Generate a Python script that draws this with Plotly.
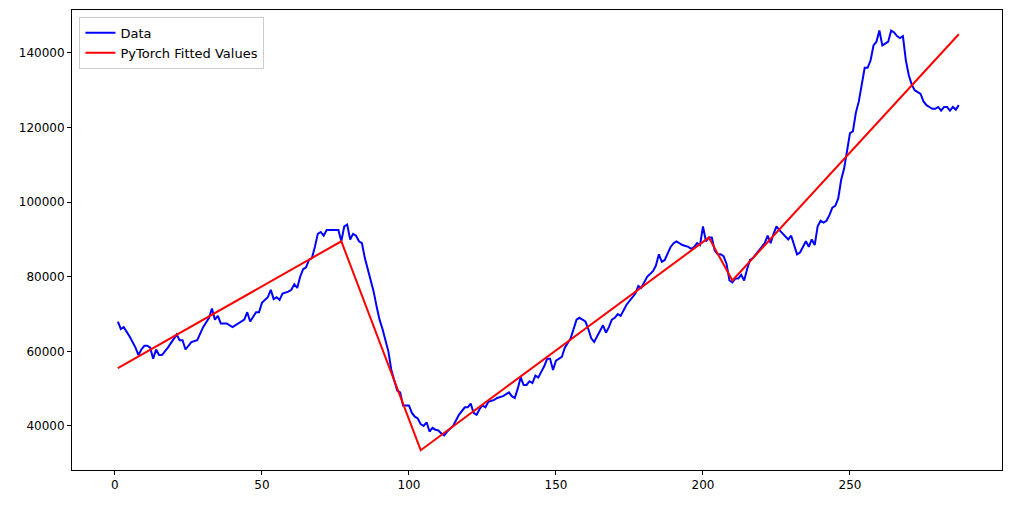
import plotly.graph_objects as go

# blue series
data_x = [1,2,3,5,7,8,9,10,11,12,13,14,15,16,18,20,21,22,23,24,25,26,28,30,32,33,34,35,36,38,40,42,44,45,46,48,49,50,52,53,54,55,56,57,59,60,61,62,63,64,65,66,67,68,69,70,71,72,74,76,77,78,79,80,81,82,83,84,85,86,87,88,89,90,91,92,93,94,95,96,97,98,99,100,101,102,103,104,105,106,107,108,109,110,111,112,113,115,117,119,120,121,122,123,124,125,126,127,129,130,132,133,134,135,136,137,138,139,140,141,142,143,144,145,146,147,148,149,150,152,153,155,156,157,158,159,160,161,162,163,165,166,167,168,169,170,171,172,174,176,177,178,179,181,183,184,185,186,187,189,190,191,193,195,196,197,198,199,200,201,202,203,204,205,206,207,208,209,210,211,212,213,214,215,216,217,218,220,221,222,223,224,225,226,228,229,230,231,232,233,234,235,236,237,238,239,240,241,242,243,244,245,246,247,248,249,250,251,252,253,254,255,256,257,258,259,260,261,262,263,264,265,266,267,268,269,270,271,272,273,274,275,276,277,278,279,280,281,282,283,284,285,286,287]
data_y = [68000,66000,66500,64000,61000,59000,60500,61500,61500,61000,58000,60500,59000,59000,61000,63500,64500,63000,63000,60500,61500,62500,63000,66500,69000,71500,68500,69500,67500,67500,66500,67500,68500,70500,68000,70500,70500,73000,74500,76500,74000,74500,73800,75500,76000,76500,78000,77000,80000,82000,82500,84500,85000,88000,91500,92000,91000,92500,92500,92500,89500,93500,94000,90000,91500,91000,89500,89000,85000,82000,79500,76000,72000,68500,66000,63000,60000,55000,52500,49500,49000,45500,45500,45500,43500,42500,42000,40500,40000,41000,38500,39500,39000,38800,38000,37500,38500,40000,43000,45000,45000,46000,43500,43000,44500,45500,45000,46500,47000,47500,48000,48500,49000,48000,47500,50000,53000,51000,51000,52000,51500,53500,53000,54500,56000,58000,58000,55000,57500,58500,61000,63500,66000,68500,69000,68500,68000,66000,63500,62500,65500,67000,65000,66500,68500,69000,70000,69500,72500,74500,75500,77500,77000,80000,81500,83000,86000,84000,84500,88000,89000,89500,88500,88000,87500,88000,89000,88500,93500,89500,90500,90500,87000,86000,86000,85500,83500,79000,78500,79500,79500,80500,79000,82000,84500,85000,86000,88000,89000,91000,89000,91500,93500,92500,91000,90000,91000,88500,86000,86500,88000,89500,88000,90000,88500,93500,95000,94500,95000,96500,98500,99000,101000,106000,109000,114000,118500,119000,124000,127000,131500,136000,136000,138000,142000,143000,146000,142000,142500,143000,146000,145500,144500,144000,144500,138000,134000,131500,130000,129500,129000,127000,126000,125500,125000,125000,125500,124500,125500,125500,124500,125500,124800,126000]

# piecewise-linear fit knots
fit_x = [1, 77, 104, 202, 210, 287]
fit_y = [55500, 89500, 33500, 90500, 79000, 145000]

fig = go.Figure()
fig.add_trace(go.Scatter(x=data_x, y=data_y, mode="lines", name="Data",
                         line=dict(color="blue", width=2)))
fig.add_trace(go.Scatter(x=fit_x, y=fit_y, mode="lines", name="PyTorch Fitted Values",
                         line=dict(color="red", width=2)))

axis = dict(showline=True, linecolor="black", linewidth=1, mirror=True, showgrid=False,
            zeroline=False, ticks="outside", ticklen=4, tickcolor="black",
            tickfont=dict(family="DejaVu Sans", size=12, color="black"))
fig.update_xaxes(range=[-14.6, 301.7], tickvals=[0, 50, 100, 150, 200, 250], **axis)
fig.update_yaxes(range=[28200, 151500], tickvals=[40000, 60000, 80000, 100000, 120000, 140000],
                 tickformat="d", **axis)
# page body adds ~8px offset, so margins are trimmed to compensate
fig.update_layout(width=1012, height=505, plot_bgcolor="white", paper_bgcolor="white",
                  margin=dict(l=64, r=18, t=2, b=43),
                  font=dict(family="DejaVu Sans", size=12, color="black"),
                  legend=dict(x=0.008, y=0.985, xanchor="left", yanchor="top",
                              bgcolor="rgba(255,255,255,0.8)", bordercolor="#cccccc",
                              borderwidth=1, font=dict(size=13)))
fig.write_html("out.html")
